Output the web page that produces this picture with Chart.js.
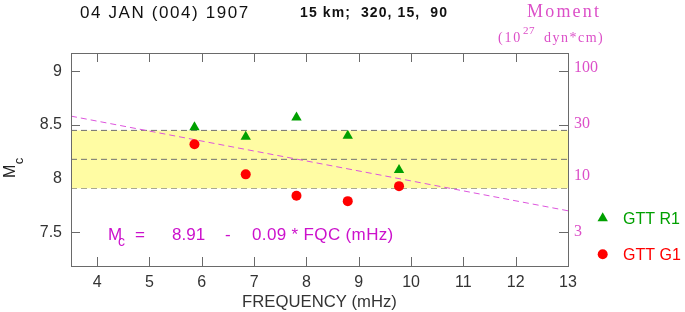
<!DOCTYPE html>
<html><head><meta charset="utf-8">
<script src="https://cdn.jsdelivr.net/npm/chart.js@4.4.1/dist/chart.umd.min.js"></script>
<style>html,body{margin:0;padding:0;background:#fff;overflow:hidden}#wrap{width:685px;height:312px}</style>
</head><body><div id="wrap"><canvas id="c" width="685" height="312"></canvas></div>
<script>
// ---- data ----
const freqR1 = [5.86, 6.84, 7.81, 8.79, 9.77];
const mcR1   = [8.48, 8.39, 8.57, 8.40, 8.08];
const freqG1 = [5.86, 6.84, 7.81, 8.79, 9.77];
const mcG1   = [8.32, 8.04, 7.84, 7.79, 7.93];
const bandTop = 8.45, bandMean = 8.18, bandBottom = 7.91;
const fitFreq = [3.5, 13];
const fitMc   = [8.583, 7.70];
const xTicks = [4, 5, 6, 7, 8, 9, 10, 11, 12, 13];
const yTicks = [7.5, 8, 8.5, 9];
const momentTicks = [3, 10, 30, 100];
const xRange = [3.5, 13];
const yRange = [7.185, 9.172];
const momentOffset = 7.03; // Mc = log10(M) + offset

const pts = (xs, ys) => xs.map((x, i) => ({x, y: ys[i]}));
const flat = (v) => xRange.map(x => ({x, y: v}));

const FRAME = '#6a6a6a';
const SANS = '"Liberation Sans", Arial, sans-serif';
const SERIF = '"Liberation Serif", "Times New Roman", serif';
const PINK = '#dc4fc8';
const MAG = '#cc11cc';

function txt(ctx, s, x, y, font, spacing) {
  ctx.font = font;
  ctx.letterSpacing = (spacing || 0) + 'px';
  ctx.fillText(s, x, y);
  ctx.letterSpacing = '0px';
}

const decor = {
  id: 'decor',
  beforeDatasetsDraw(chart) {
    const {ctx, chartArea: a, scales} = chart;
    ctx.save();
    ctx.strokeStyle = FRAME; ctx.lineWidth = 1;
    ctx.beginPath();
    xTicks.forEach(v => {
      const x = Math.round(scales.x.getPixelForValue(v)) + 0.5;
      ctx.moveTo(x, a.bottom); ctx.lineTo(x, a.bottom - 9);
      ctx.moveTo(x, a.top); ctx.lineTo(x, a.top + 9);
    });
    yTicks.forEach(v => {
      const y = Math.round(scales.y.getPixelForValue(v)) + 0.5;
      ctx.moveTo(a.left, y); ctx.lineTo(a.left + 9, y);
      ctx.moveTo(a.right, y); ctx.lineTo(a.right - 9, y);
    });
    ctx.stroke();
    ctx.restore();
  },
  afterDatasetsDraw(chart) {
    const {ctx, chartArea: a} = chart;
    ctx.save();
    ctx.strokeStyle = FRAME; ctx.lineWidth = 1;
    ctx.strokeRect(Math.round(a.left) + 0.5, Math.round(a.top) + 0.5, Math.round(a.right - a.left), Math.round(a.bottom - a.top));
    ctx.restore();
  },
  afterDraw(chart) {
    const {ctx} = chart;
    ctx.save();
    ctx.textBaseline = 'alphabetic'; ctx.textAlign = 'left';
    // title
    ctx.fillStyle = '#111';
    txt(ctx, '04 JAN (004) 1907', 80, 17.5, '17px ' + SANS, 1.6);
    txt(ctx, '15 km;  320, 15,  90', 300, 17, 'bold 14px ' + SANS, 1.1);
    // moment label
    ctx.fillStyle = PINK;
    txt(ctx, 'Moment', 527, 17, '18px ' + SERIF, 2.2);
    txt(ctx, '(10', 498, 42, '14px ' + SERIF, 1.8);
    txt(ctx, '27', 523, 33.5, '11px ' + SERIF, 0.5);
    txt(ctx, 'dyn*cm)', 544, 42, '14px ' + SERIF, 1.5);
    // y title
    ctx.fillStyle = '#222';
    ctx.save();
    ctx.translate(15, 178);
    ctx.rotate(-Math.PI / 2);
    ctx.font = '16px ' + SANS;
    ctx.fillText('M', 0, 0);
    const mw = ctx.measureText('M').width;
    ctx.font = '13px ' + SANS;
    ctx.fillText('c', mw + 0.5, 8);
    ctx.restore();
    // equation
    ctx.fillStyle = MAG;
    txt(ctx, 'M', 108, 240, '17px ' + SANS, 0);
    txt(ctx, 'c', 118, 246, '14px ' + SANS, 0);
    txt(ctx, '=', 135, 240, '17px ' + SANS, 0);
    txt(ctx, '8.91', 172, 240, '17px ' + SANS, 0);
    txt(ctx, '-', 225, 240, '17px ' + SANS, 0);
    txt(ctx, '0.09 * FQC (mHz)', 252, 240, '17px ' + SANS, 0.35);
    // legend
    ctx.fillStyle = '#00a000';
    ctx.beginPath();
    const r = 6;
    ctx.moveTo(602.7, 218.3 - r);
    ctx.lineTo(602.7 + r * 0.866, 218.3 + r * 0.5);
    ctx.lineTo(602.7 - r * 0.866, 218.3 + r * 0.5);
    ctx.closePath(); ctx.fill();
    txt(ctx, 'GTT R1', 623, 224, '16px ' + SANS, 0);
    ctx.fillStyle = '#ff0000';
    ctx.beginPath(); ctx.arc(602.7, 254.3, 5, 0, Math.PI * 2); ctx.fill();
    txt(ctx, 'GTT G1', 623, 260, '16px ' + SANS, 0);
    ctx.restore();
  }
};

new Chart(document.getElementById('c'), {
  type: 'scatter',
  data: {
    datasets: [
      {label: 'GTT R1', data: pts(freqR1, mcR1), pointStyle: 'triangle', pointRadius: 6, pointHoverRadius: 6,
       backgroundColor: '#00a000', borderColor: '#00a000', borderWidth: 0, order: 0},
      {label: 'GTT G1', data: pts(freqG1, mcG1), pointStyle: 'circle', pointRadius: 5, pointHoverRadius: 5,
       backgroundColor: '#ff0000', borderColor: '#ff0000', borderWidth: 0, order: 1},
      {type: 'line', label: 'fit', data: pts(fitFreq, fitMc), borderColor: '#dd55dd', borderWidth: 1,
       borderDash: [6, 4], pointRadius: 0, fill: false, order: 2},
      {type: 'line', label: 'mean', data: flat(bandMean), borderColor: '#707070', borderWidth: 1,
       borderDash: [6, 4], pointRadius: 0, fill: false, order: 3},
      {type: 'line', label: 'top', data: flat(bandTop), borderColor: '#707070', borderWidth: 1,
       borderDash: [6, 4], pointRadius: 0, fill: '+1', backgroundColor: '#fffca3', order: 4},
      {type: 'line', label: 'bottom', data: flat(bandBottom), borderColor: '#707070', borderWidth: 1,
       borderDash: [6, 4], pointRadius: 0, fill: false, order: 5}
    ]
  },
  options: {
    responsive: false, animation: false, events: [],
    layout: {padding: {top: 53, left: 0, right: 0, bottom: 0}},
    plugins: {legend: {display: false}, tooltip: {enabled: false}, title: {display: false}},
    scales: {
      x: {
        type: 'linear', position: 'bottom', min: xRange[0], max: xRange[1],
        afterBuildTicks: s => { s.ticks = xTicks.map(v => ({value: v})); },
        afterFit: s => { s.height = 46; },
        grid: {display: false, drawTicks: false}, border: {display: false},
        ticks: {color: '#333', font: {family: SANS, size: 16}, padding: 7, maxRotation: 0, autoSkip: false},
        title: {display: true, text: 'FREQUENCY (mHz)', color: '#333', font: {family: SANS, size: 16.7}, padding: {top: 0, bottom: 0}}
      },
      y: {
        type: 'linear', position: 'left', min: yRange[0], max: yRange[1],
        afterBuildTicks: s => { s.ticks = yTicks.map(v => ({value: v})); },
        afterFit: s => { s.width = 71; },
        grid: {display: false, drawTicks: false}, border: {display: false},
        ticks: {color: '#333', font: {family: SANS, size: 16}, padding: 9, autoSkip: false,
                callback: v => String(v)}
      },
      y2: {
        type: 'logarithmic', position: 'right',
        min: Math.pow(10, yRange[0] - momentOffset), max: Math.pow(10, yRange[1] - momentOffset),
        afterBuildTicks: s => { s.ticks = momentTicks.map(v => ({value: v})); },
        afterFit: s => { s.width = 117; },
        grid: {display: false, drawTicks: false}, border: {display: false},
        ticks: {color: PINK, font: {family: SERIF, size: 16}, padding: 6, autoSkip: false,
                callback: v => String(v)}
      }
    }
  },
  plugins: [decor]
});
</script>
</body></html>
